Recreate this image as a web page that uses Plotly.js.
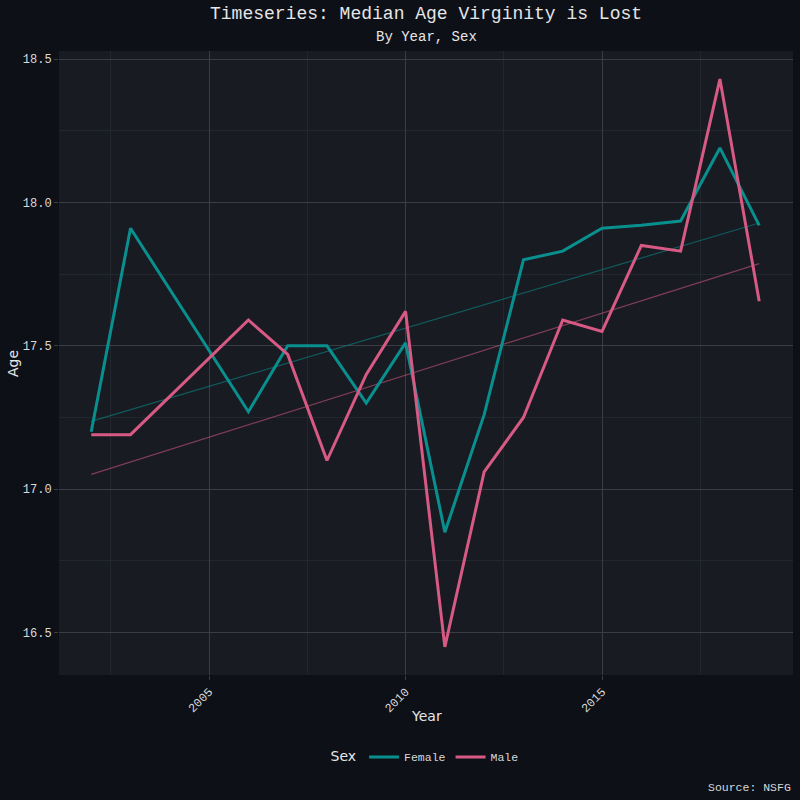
<!DOCTYPE html>
<html>
<head>
<meta charset="utf-8">
<script src="https://cdn.plot.ly/plotly-3.0.1.min.js"></script>
<style>html,body{margin:0;padding:0;background:#0d1017;}#chart{width:800px;height:800px;}</style>
</head>
<body>
<div id="chart"></div>
<script>
const years = [2002, 2003, 2006, 2007, 2008, 2009, 2010, 2011, 2012, 2013, 2014, 2015, 2016, 2017, 2018, 2019];
const female = [17.20, 17.91, 17.27, 17.50, 17.50, 17.30, 17.51, 16.85, 17.26, 17.80, 17.83, 17.91, 17.92, 17.935, 18.19, 17.92];
const male = [17.19, 17.19, 17.59, 17.47, 17.10, 17.40, 17.62, 16.45, 17.06, 17.25, 17.59, 17.55, 17.85, 17.83, 18.43, 17.655];
const seriesNames = ['Female', 'Male'];
const xTicks = [2005, 2010, 2015];
const yTicks = [16.5, 17.0, 17.5, 18.0, 18.5];

function linfit(xs, ys) {
  const n = xs.length;
  const mx = xs.reduce((a, b) => a + b, 0) / n;
  const my = ys.reduce((a, b) => a + b, 0) / n;
  let sxy = 0, sxx = 0;
  for (let i = 0; i < n; i++) { sxy += (xs[i] - mx) * (ys[i] - my); sxx += (xs[i] - mx) ** 2; }
  const b = sxy / sxx;
  const a = my - b * mx;
  const x0 = xs[0], x1 = xs[n - 1];
  return { x: [x0, x1], y: [a + b * x0, a + b * x1] };
}

const colF = '#0a8f8f';
const colM = '#d65a84';
const fF = linfit(years, female);
const fM = linfit(years, male);

const traces = [
  { x: fF.x, y: fF.y, mode: 'lines', line: { color: 'rgba(10,143,143,0.55)', width: 1.2 }, showlegend: false, hoverinfo: 'skip' },
  { x: fM.x, y: fM.y, mode: 'lines', line: { color: 'rgba(214,90,132,0.55)', width: 1.2 }, showlegend: false, hoverinfo: 'skip' },
  { x: years, y: female, name: seriesNames[0], mode: 'lines', line: { color: colF, width: 3 } },
  { x: years, y: male, name: seriesNames[1], mode: 'lines', line: { color: colM, width: 3 } }
];

const mono = 'Liberation Mono, DejaVu Sans Mono, monospace';
const sans = 'DejaVu Sans, Liberation Sans, sans-serif';

const layout = {
  width: 800, height: 800,
  paper_bgcolor: '#0d1017',
  plot_bgcolor: '#181b21',
  margin: { l: 59, r: 7, t: 51, b: 125 },
  font: { family: mono, color: '#d9d9d9', size: 12 },
  showlegend: true,
  legend: {
    orientation: 'h', x: 0.5, xanchor: 'center', y: -0.1314, yanchor: 'middle',
    title: { text: 'Sex', side: 'left', font: { family: sans, size: 14, color: '#e6e6e6' } },
    font: { family: mono, size: 11.5, color: '#d9d9d9' },
    bgcolor: 'rgba(0,0,0,0)', itemwidth: 30, tracegroupgap: 0
  },
  xaxis: {
    range: [2001.18, 2019.86], tickvals: xTicks, ticktext: xTicks.map(String), tickangle: -45,
    showgrid: true, gridcolor: '#3a3d43', gridwidth: 1, zeroline: false,
    ticks: 'outside', ticklen: 4, tickcolor: '#3a3d43',
    tickfont: { family: mono, size: 12, color: '#d9d9d9' },
    minor: { tickvals: [2002.5, 2007.5, 2012.5, 2017.5], showgrid: true, gridcolor: '#22262d', gridwidth: 1 },
    showline: false, fixedrange: true
  },
  yaxis: {
    range: [16.352, 18.528], tickvals: yTicks, ticktext: yTicks.map(v => v.toFixed(1)),
    showgrid: true, gridcolor: '#3a3d43', gridwidth: 1, zeroline: false,
    ticks: 'outside', ticklen: 4, tickcolor: '#3a3d43',
    tickfont: { family: mono, size: 12, color: '#d9d9d9' },
    minor: { tickvals: [16.75, 17.25, 17.75, 18.25], showgrid: true, gridcolor: '#22262d', gridwidth: 1 },
    showline: false, fixedrange: true
  },
  annotations: [
    { text: 'Timeseries: Median Age Virginity is Lost', xref: 'paper', yref: 'paper', x: 0.5, y: 1.0593, xanchor: 'center', yanchor: 'middle', showarrow: false, font: { family: mono, size: 18, color: '#e6e6e6' } },
    { text: 'By Year, Sex', xref: 'paper', yref: 'paper', x: 0.5, y: 1.0224, xanchor: 'center', yanchor: 'middle', showarrow: false, font: { family: mono, size: 14, color: '#e6e6e6' } },
    { text: 'Year', xref: 'paper', yref: 'paper', x: 0.5, y: -0.0657, xanchor: 'center', yanchor: 'middle', showarrow: false, font: { family: sans, size: 14, color: '#e6e6e6' } },
    { text: 'Age', xref: 'paper', yref: 'paper', x: -0.0627, y: 0.5, xanchor: 'center', yanchor: 'middle', textangle: -90, showarrow: false, font: { family: sans, size: 14, color: '#e6e6e6' } },
    { text: 'Source: NSFG', xref: 'paper', yref: 'paper', x: 1, y: -0.1795, xanchor: 'right', yanchor: 'middle', showarrow: false, font: { family: mono, size: 11.5, color: '#d9d9d9' } }
  ]
};

Plotly.newPlot('chart', traces, layout, { displayModeBar: false, staticPlot: true });
</script>
</body>
</html>
